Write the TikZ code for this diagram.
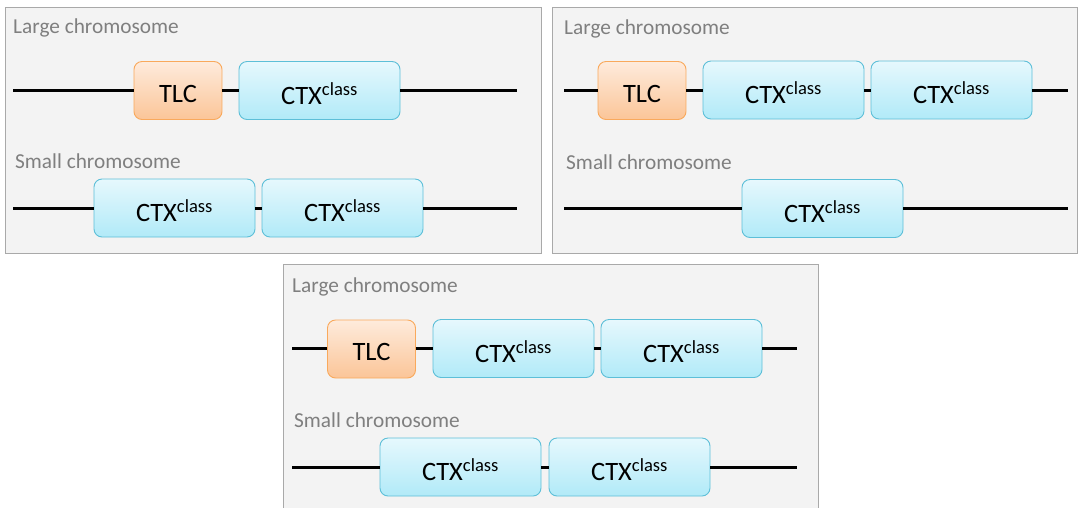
\documentclass[tikz,border=0pt]{standalone}
\usepackage{fontspec}
\setmainfont{Carlito}
\definecolor{panelfill}{HTML}{F3F3F3}
\definecolor{panelborder}{HTML}{A9A9A9}
\definecolor{labelgray}{HTML}{7F7F7F}
\definecolor{tlcborder}{HTML}{F9A95C}
\definecolor{tlctop}{HTML}{FEEBDC}
\definecolor{tlcbot}{HTML}{FBC598}
\definecolor{ctxborder}{HTML}{5DBFD8}
\definecolor{ctxtop}{HTML}{E6F8FD}
\definecolor{ctxbot}{HTML}{B1EAF8}
\tikzset{
  panel/.style={draw=panelborder, fill=panelfill, line width=1.2pt},
  chromlabel/.style={anchor=base west, inner sep=0pt, text=labelgray, font=\fontsize{21.3}{24}\selectfont},
  genebox/.style={rounded corners=8pt, line width=0.9pt, inner sep=0pt, minimum height=58pt,
    font=\fontsize{26.5}{30}\selectfont, text=black},
  tlcbox/.style={genebox, draw=tlcborder, top color=tlctop, bottom color=tlcbot, minimum width=88pt},
  ctxbox/.style={genebox, draw=ctxborder, top color=ctxtop, bottom color=ctxbot, minimum width=161pt},
  chrom/.style={line width=3pt, black},
}
\newcommand{\lowered}[1]{\raisebox{-3pt}[\height][\depth]{#1}}
\newcommand{\ctxlabel}{\lowered{CTX\textsuperscript{class}}}
\newcommand{\tlclabel}{\lowered{TLC}}
\begin{document}
\begin{tikzpicture}[x=1pt,y=-1pt]
\useasboundingbox (0,0) rectangle (1079,507);
% panels
\draw[panel] (5.5,7.5) rectangle (541.5,253.5);
\draw[panel] (552.5,7.5) rectangle (1077.5,253.5);
\draw[panel] (283.5,264.5) rectangle (818.5,512);

% ---------- Panel 1 ----------
\node[chromlabel] (p1large) at (13,33) {Large chromosome};
\coordinate (p1aL) at (13,90);
\coordinate (p1aR) at (517,90);
\node[tlcbox] (p1tlc) at (178,90.5) {\tlclabel};
\node[ctxbox] (p1ctxa) at (319.5,90.5) {\ctxlabel};
\draw[chrom] (p1aL) -- (p1aL -| p1tlc.west);
\draw[chrom] (p1aL -| p1tlc.east) -- (p1aL -| p1ctxa.west);
\draw[chrom] (p1aL -| p1ctxa.east) -- (p1aR);

\node[chromlabel] (p1small) at (15,168) {Small chromosome};
\coordinate (p1bL) at (13,208);
\coordinate (p1bR) at (517,208);
\node[ctxbox] (p1ctxb) at (174.5,208) {\ctxlabel};
\node[ctxbox] (p1ctxc) at (342.5,208) {\ctxlabel};
\draw[chrom] (p1bL) -- (p1bL -| p1ctxb.west);
\draw[chrom] (p1bL -| p1ctxb.east) -- (p1bL -| p1ctxc.west);
\draw[chrom] (p1bL -| p1ctxc.east) -- (p1bR);

% ---------- Panel 2 ----------
\node[chromlabel] (p2large) at (564,34) {Large chromosome};
\coordinate (p2aL) at (564,90);
\coordinate (p2aR) at (1068,90);
\node[tlcbox] (p2tlc) at (642,90.5) {\tlclabel};
\node[ctxbox] (p2ctxa) at (783.5,90) {\ctxlabel};
\node[ctxbox] (p2ctxb) at (951.5,90) {\ctxlabel};
\draw[chrom] (p2aL) -- (p2aL -| p2tlc.west);
\draw[chrom] (p2aL -| p2tlc.east) -- (p2aL -| p2ctxa.west);
\draw[chrom] (p2aL -| p2ctxa.east) -- (p2aL -| p2ctxb.west);
\draw[chrom] (p2aL -| p2ctxb.east) -- (p2aR);

\node[chromlabel] (p2small) at (566,169) {Small chromosome};
\coordinate (p2bL) at (564,208);
\coordinate (p2bR) at (1068,208);
\node[ctxbox] (p2ctxc) at (822.5,208.5) {\ctxlabel};
\draw[chrom] (p2bL) -- (p2bL -| p2ctxc.west);
\draw[chrom] (p2bL -| p2ctxc.east) -- (p2bR);

% ---------- Panel 3 ----------
\node[chromlabel] (p3large) at (292,292) {Large chromosome};
\coordinate (p3aL) at (292,348);
\coordinate (p3aR) at (797,348);
\node[tlcbox] (p3tlc) at (371.5,349) {\tlclabel};
\node[ctxbox] (p3ctxa) at (513.5,348.5) {\ctxlabel};
\node[ctxbox] (p3ctxb) at (681.5,348.5) {\ctxlabel};
\draw[chrom] (p3aL) -- (p3aL -| p3tlc.west);
\draw[chrom] (p3aL -| p3tlc.east) -- (p3aL -| p3ctxa.west);
\draw[chrom] (p3aL -| p3ctxa.east) -- (p3aL -| p3ctxb.west);
\draw[chrom] (p3aL -| p3ctxb.east) -- (p3aR);

\node[chromlabel] (p3small) at (294,427) {Small chromosome};
\coordinate (p3bL) at (292,467);
\coordinate (p3bR) at (797,467);
\node[ctxbox] (p3ctxc) at (460.5,467) {\ctxlabel};
\node[ctxbox] (p3ctxd) at (629.5,467) {\ctxlabel};
\draw[chrom] (p3bL) -- (p3bL -| p3ctxc.west);
\draw[chrom] (p3bL -| p3ctxc.east) -- (p3bL -| p3ctxd.west);
\draw[chrom] (p3bL -| p3ctxd.east) -- (p3bR);
\end{tikzpicture}
\end{document}
